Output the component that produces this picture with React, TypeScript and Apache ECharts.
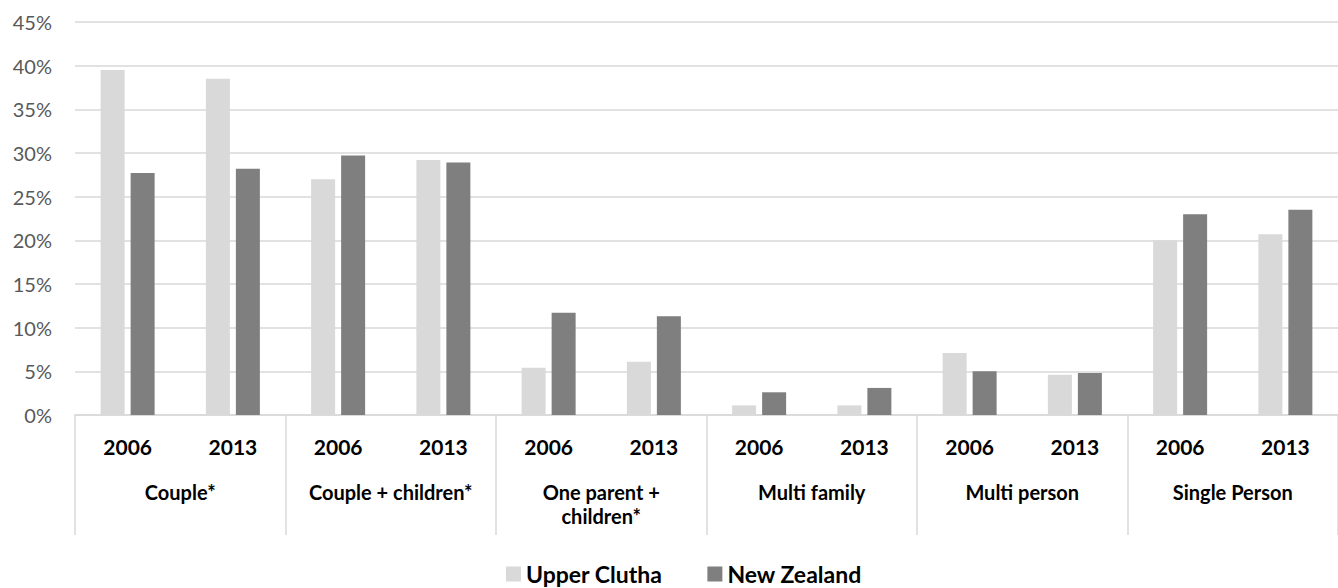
import React, { useEffect, useRef } from "react";
import * as echarts from "echarts";

const groups = ["Couple*", "Couple + children*", "One parent +\nchildren*", "Multi family", "Multi person", "Single Person"];
const years = ["2006", "2013"];
const yearLabels = groups.flatMap(() => years);
const upperClutha = [39.5, 38.5, 27.0, 29.2, 5.4, 6.1, 1.1, 1.1, 7.1, 4.6, 20.0, 20.7];
const newZealand = [27.7, 28.2, 29.7, 28.9, 11.7, 11.3, 2.6, 3.1, 5.0, 4.8, 23.0, 23.5];
const seriesNames = ["Upper Clutha", "New Zealand"];
const colors = ["#d9d9d9", "#7f7f7f"];

const FONT = 'Lato, "Open Sans", sans-serif';

export default function App() {
  const ref = useRef<HTMLDivElement>(null);
  useEffect(() => {
    if (!ref.current) return;
    const chart = echarts.init(ref.current, undefined, { renderer: "svg" });
    chart.setOption({
      animation: false,
      backgroundColor: "#ffffff",
      textStyle: { fontFamily: FONT },
      grid: { left: 75, right: -5, top: 22, bottom: 173, containLabel: false },
      legend: {
        left: 506,
        top: 562,
        padding: 0,
        itemWidth: 15,
        itemHeight: 15,
        itemGap: 45,
        icon: "rect",
        data: seriesNames,
        textStyle: { fontFamily: FONT, fontSize: 23, fontWeight: "bold", color: "#000000", lineHeight: 24 },
      },
      xAxis: [
        {
          type: "category",
          data: yearLabels,
          position: "bottom",
          axisLine: { show: true, lineStyle: { color: "#d9d9d9", width: 1.5 } },
          axisTick: { show: false },
          axisLabel: {
            interval: 0,
            margin: 21,
            fontFamily: FONT,
            fontSize: 21,
            fontWeight: "bold",
            color: "#000000",
          },
        },
        {
          type: "category",
          data: groups,
          position: "bottom",
          offset: 0,
          axisLine: { show: false },
          axisTick: { show: true, interval: 0, length: 120, lineStyle: { color: "#d9d9d9", width: 1.5 } },
          axisLabel: {
            interval: 0,
            margin: 65,
            fontFamily: FONT,
            fontSize: 20,
            fontWeight: "bold",
            lineHeight: 24,
            color: "#000000",
          },
        },
      ],
      yAxis: {
        type: "value",
        min: 0,
        max: 45,
        interval: 5,
        axisLine: { show: false },
        axisTick: { show: false },
        splitLine: { show: true, lineStyle: { color: "#d9d9d9", width: 1.5 } },
        axisLabel: {
          formatter: "{value}%",
          margin: 23,
          fontFamily: FONT,
          fontSize: 20,
          color: "#595959",
        },
      },
      series: [
        {
          name: seriesNames[0],
          type: "bar",
          xAxisIndex: 0,
          data: upperClutha,
          barWidth: 24,
          barGap: "25%",
          itemStyle: { color: colors[0] },
        },
        {
          name: seriesNames[1],
          type: "bar",
          xAxisIndex: 0,
          data: newZealand,
          barWidth: 24,
          barGap: "25%",
          itemStyle: { color: colors[1] },
        },
      ],
    });
    return () => chart.dispose();
  }, []);
  return (
    <div
      ref={ref}
      style={{ position: "fixed", left: 0, top: 0, width: 1338, height: 588, background: "#fff" }}
    />
  );
}
